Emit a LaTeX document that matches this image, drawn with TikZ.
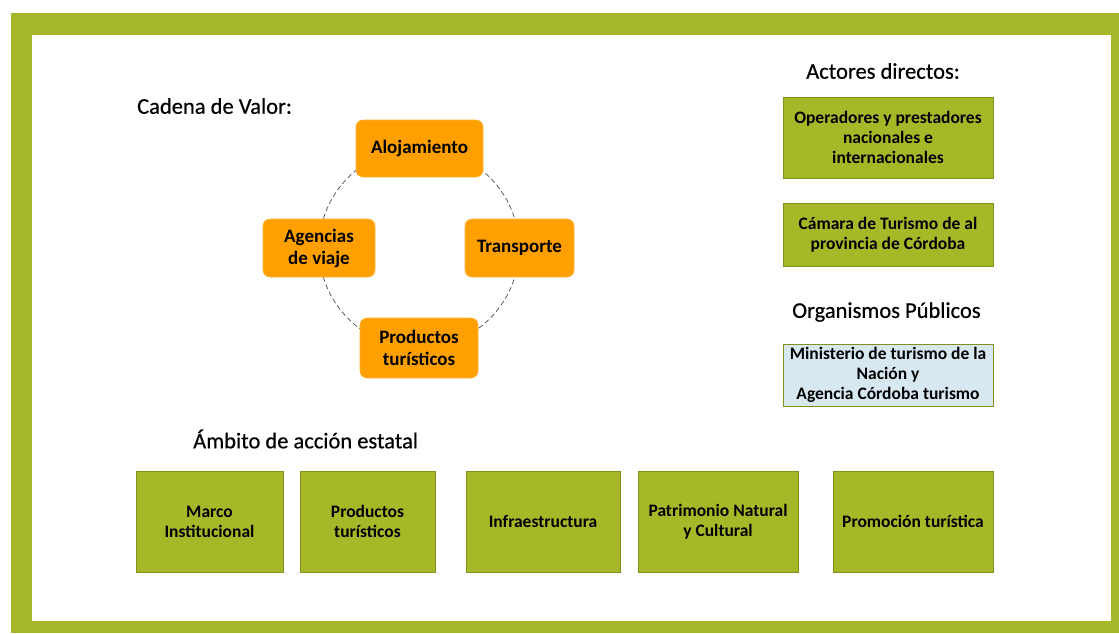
\documentclass[tikz,border=0pt]{standalone}
\usepackage{fontspec}
\setmainfont{Carlito}
\newfontfamily\headfont{Carlito}[FakeBold=0.5]
\definecolor{frameg}{RGB}{165,183,40}
\definecolor{boxg}{RGB}{166,184,40}
\definecolor{boxgb}{RGB}{128,145,30}
\definecolor{orng}{RGB}{255,160,0}
\definecolor{lblue}{RGB}{216,232,240}
\begin{document}
\begin{tikzpicture}[x=1pt,y=-1pt,
  heading/.style={font=\headfont\fontsize{22.5}{26}\selectfont, text=black, inner sep=0pt},
  chain/.style={fill=orng, rounded corners=7pt, draw=orng!80!white, line width=0.6pt, align=center,
     font=\bfseries\fontsize{19}{22}\selectfont, inner sep=0pt},
  gbox/.style={fill=boxg, draw=boxgb, line width=0.8pt, align=center,
     font=\bfseries\fontsize{17.5}{19.8}\selectfont, inner sep=0pt},
  bbox/.style={fill=lblue, draw=boxgb, line width=0.8pt, align=center,
     font=\bfseries\fontsize{17.5}{19.8}\selectfont, inner sep=0pt},
  ring/.style={draw=black!70, dash pattern=on 5pt off 3pt, line width=0.7pt}
]
\useasboundingbox (0,0) rectangle (1119,633);
% frame
\fill[frameg] (11,13) rectangle (1119,633);
\fill[white] (32,35) rectangle (1111,621);

% headings
\node[heading, anchor=west] (hcad) at (137,106) {Cadena de Valor:};
\node[heading, anchor=west] (hact) at (806,71) {Actores directos:};
\node[heading, anchor=west] (horg) at (792,312) {Organismos Públicos};
\node[heading, anchor=west] (hamb) at (193,439) {Ámbito de acción estatal};

% value chain ring
\coordinate (rc) at (419,248);
\draw[ring] (rc) circle[radius=100];

\node[chain, minimum width=127pt, minimum height=57pt] (aloj) at (419.5,148.5) {Alojamiento};
\node[chain, minimum width=112pt, minimum height=58pt] (agen) at (319,248) {Agencias\\de viaje};
\node[chain, minimum width=109pt, minimum height=58pt] (trans) at (519.5,248) {Transporte};
\node[chain, minimum width=118pt, minimum height=60pt] (prod) at (419,348) {Productos\\turísticos};

% right column
\node[gbox, minimum width=210pt, minimum height=81pt] (oper) at (888,137.5) {Operadores y prestadores\\nacionales e\\internacionales};
\node[gbox, minimum width=210pt, minimum height=63pt] (cam) at (888,234.5) {Cámara de Turismo de al\\provincia de Córdoba};
\node[bbox, minimum width=210pt, minimum height=62pt] (min) at (888,375) {Ministerio de turismo de la\\Nación y\\Agencia Córdoba turismo};

% bottom row
\node[gbox, minimum width=147pt, minimum height=101pt] (marco) at (209.5,521.5) {Marco\\Institucional};
\node[gbox, minimum width=135pt, minimum height=101pt] (prodt) at (367.5,521.5) {Productos\\turísticos};
\node[gbox, minimum width=154pt, minimum height=101pt] (infra) at (543,521.5) {Infraestructura};
\node[gbox, minimum width=160pt, minimum height=101pt] (patr) at (718,521.5) {Patrimonio Natural\\y Cultural};
\node[gbox, minimum width=160pt, minimum height=101pt] (prom) at (913,521.5) {Promoción turística};
\end{tikzpicture}
\end{document}
